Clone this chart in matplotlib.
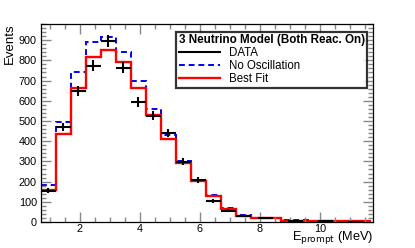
import numpy as np
import matplotlib
matplotlib.use("Agg")
import matplotlib.pyplot as plt
from matplotlib.ticker import MultipleLocator
from matplotlib.lines import Line2D

plt.rcParams['font.family'] = ['Liberation Sans', 'DejaVu Sans']

bin_edges = [0.7, 1.2, 1.7, 2.2, 2.7, 3.2, 3.7, 4.2, 4.7, 5.2, 5.7, 6.2, 6.7, 7.2, 7.7,
             8.7, 9.7, 10.7, 11.7]
no_osc = [182, 493, 741, 892, 916, 842, 700, 559, 432, 300, 210, 133, 71, 36,
          20, 8, 6, 5]
best_fit = [156, 435, 664, 818, 851, 793, 662, 530, 411, 293, 202, 128, 66, 30,
            18, 6, 5, 4]
data = [155, 470, 650, 773, 897, 763, 596, 527, 440, 298, 210, 105, 56, 28,
        18, 4, 3, 2]

edges = np.array(bin_edges)
centers = 0.5 * (edges[:-1] + edges[1:])
halfw = 0.25 * np.ones_like(centers)
yerr = np.sqrt(np.array(data, dtype=float))

fig = plt.figure(figsize=(4.15, 2.48), dpi=100)
ax = fig.add_axes([0.0988, 0.1048, 0.8, 0.7984])

ax.stairs(no_osc, edges, baseline=None, color='#0000ff', lw=1.4, ls=(0, (3, 2)))
ax.stairs(best_fit, edges, baseline=None, color='#ff0000', lw=1.7)
ax.errorbar(centers, data, xerr=halfw, yerr=yerr, fmt='none', ecolor='black',
            elinewidth=1.5, capsize=0)

ax.set_xlim(0.7, 11.77)
ax.set_ylim(0, 980)
ax.xaxis.set_major_locator(MultipleLocator(2))
ax.xaxis.set_minor_locator(MultipleLocator(0.5))
ax.yaxis.set_major_locator(MultipleLocator(100))
ax.yaxis.set_minor_locator(MultipleLocator(20))
ax.tick_params(which='both', direction='in', top=True, right=True, color='#888888',
               labelsize=7.8, pad=3)
ax.tick_params(which='major', length=7, width=1)
ax.tick_params(which='minor', length=3.5, width=1)
ax.tick_params(axis='x', which='major', pad=1.5)
for s in ax.spines.values():
    s.set_color('black')
    s.set_linewidth(0.9)

fig.text(0.024, 0.905, 'Events', rotation=90, ha='center', va='top', fontsize=9.5)
fig.text(0.8988, 0.032, r'E$_{\mathrm{prompt}}$ (MeV)', ha='right', va='baseline',
         fontsize=9.2)

handles = [Line2D([], [], color='black', lw=1.5),
           Line2D([], [], color='#0000ff', lw=1.4, ls=(0, (3, 2))),
           Line2D([], [], color='#ff0000', lw=1.7)]
leg = ax.legend(handles, ['DATA', 'No Oscillation', 'Best Fit'],
                title='3 Neutrino Model (Both Reac. On)', loc='upper right',
                bbox_to_anchor=(0.982, 0.962), fontsize=8.3, frameon=True,
                fancybox=False, edgecolor='black', handlelength=3.6,
                borderpad=0.2, labelspacing=0.1, handletextpad=0.8,
                alignment='left', borderaxespad=0)
leg.get_title().set_fontweight('bold')
leg.get_title().set_fontsize(8.4)
leg.get_frame().set_linewidth(1.6)

fig.savefig('out.png', dpi=100)
